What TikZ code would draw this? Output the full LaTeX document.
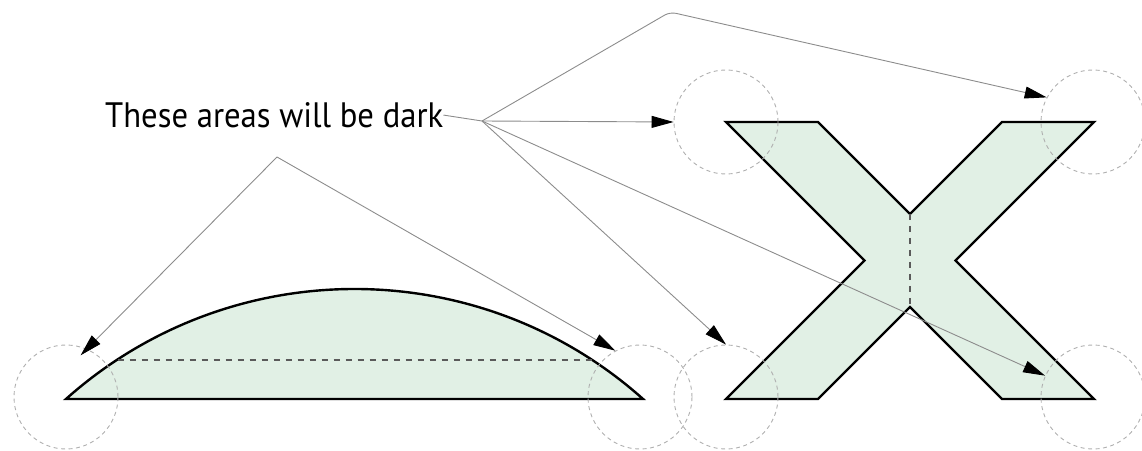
\documentclass[tikz,border=0pt]{standalone}
\usepackage{graphicx}
\usepackage{fontspec}
\setsansfont{PT Sans}
\usetikzlibrary{arrows.meta}
\definecolor{shapefill}{RGB}{225,240,229}
\definecolor{connector}{RGB}{140,140,140}
\definecolor{circlegray}{RGB}{175,175,175}
\definecolor{innerdash}{RGB}{90,90,90}
\tikzset{
  shapebody/.style={fill=shapefill, draw=black, line width=2.4pt, line join=miter},
  innerline/.style={draw=innerdash, line width=1.4pt, dash pattern=on 6pt off 6pt},
  darkzone/.style={circle, draw=circlegray, line width=0.9pt, dash pattern=on 4pt off 3.5pt, minimum size=104pt, inner sep=0pt},
  pointer/.style={draw=connector, line width=0.9pt, -{Triangle[length=22pt,width=12pt,fill=black,color=black]}},
  plainline/.style={draw=connector, line width=0.9pt},
  labeltext/.style={anchor=south west, inner sep=0pt, text=black}
}
\begin{document}
\begin{tikzpicture}[x=1pt,y=1pt]
\useasboundingbox (0,0) rectangle (1142,450);
% lens shape
\path[shapebody] (66,51) arc[start angle=131.75, end angle=48.25, radius=433.3] -- cycle;
\draw[innerline] (117.5,90) -- (591.5,90);
% X shape
\path[shapebody] (726,328) -- (818,328) -- (910,236) -- (1002,328) -- (1094,328)
  -- (955.5,189.5) -- (1094,51) -- (1002,51) -- (910,143) -- (818,51) -- (726,51)
  -- (864.5,189.5) -- cycle;
\draw[innerline] (910,236) -- (910,143);
% dark zones
\node[darkzone] (cLL) at (66,53) {};
\node[darkzone] (cLR) at (640,53) {};
\node[darkzone] (cTL) at (726,328) {};
\node[darkzone] (cTR) at (1093,328) {};
\node[darkzone] (cBL) at (726,53) {};
\node[darkzone] (cBR) at (1093,53) {};
% label
\node[labeltext] (lbl) at (105,322) {\resizebox{338pt}{25pt}{\sffamily These areas will be dark}};
\coordinate (hub) at (482,329);
\coordinate (corner) at (670,438);
\coordinate (apex) at (277,293);
\draw[plainline] (lbl.east) -- (hub);
\draw[pointer, rounded corners=6pt] (hub) -- (corner) -- (cTR.152);
\draw[pointer] (hub) -- (cTL.180);
\draw[pointer] (hub) -- (cBL.90);
\draw[pointer] (hub) -- (cBR.156);
\draw[pointer] (apex) -- ([shift={(1,-9)}]cLL.75);
\draw[pointer] (apex) -- (cLR.118);
\end{tikzpicture}
\end{document}
